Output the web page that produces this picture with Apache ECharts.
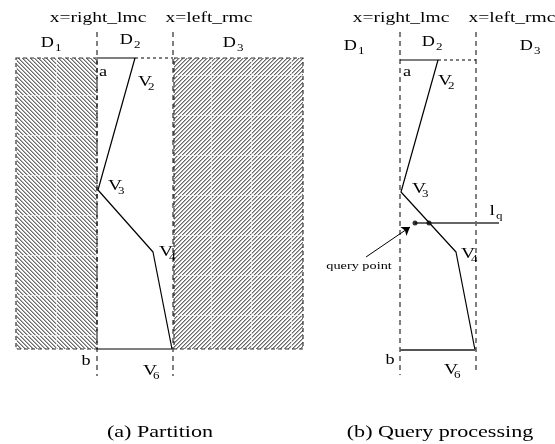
<!DOCTYPE html>
<html>
<head>
<meta charset="utf-8">
<script src="https://cdn.jsdelivr.net/npm/echarts@6/dist/echarts.min.js"></script>
<style>
  html, body { margin: 0; padding: 0; background: #fff; }
  #main { width: 555px; height: 444px; }
</style>
</head>
<body>
<div id="main"></div>
<script>
// diagram coordinates (x to the right, y downward)
const hatchRegions = [[16, 58, 97, 349], [174, 58, 303, 349]];
const hatchDirs = ['back', 'fwd'];

const guideLines = [
  [97, 32, 376], [173, 32, 376],
  [400, 32, 375], [476, 32, 373]
];
const topDashes = [[[135, 58], [173, 58]], [[438, 60], [476, 60]]];

const chainLeft = [[97, 58], [135, 58], [98, 190], [153, 252], [172, 349], [97, 349]];
const chainRight = [[400, 60], [438, 60], [401, 192], [456, 252], [475, 350]];
const bottomRight = [[475, 350], [400, 350]];

const queryLine = [[415, 223], [499, 223]];
const queryDots = [[415, 223], [429, 223]];
const arrow = [[366, 257], [410, 227]];

const headerLabels = [
  ['x=right_lmc', 98, 18], ['x=left_rmc', 209, 18],
  ['x=right_lmc', 401, 18], ['x=left_rmc', 512, 18]
];
const pointLabels = [['a', 103, 72], ['b', 86, 361], ['a', 407, 72], ['b', 390, 360]];
const noteLabels = [['query point', 359, 266]];
const captions = [['(a) Partition', 160, 433], ['(b) Query processing', 440, 433]];

// [letter, subscript, x of the letter's right edge, y]
const subLabels = [
  ['D', '1', 54, 43], ['D', '2', 133, 40], ['D', '3', 236, 43],
  ['V', '2', 152, 82], ['V', '3', 122, 186], ['V', '4', 173, 252], ['V', '6', 157, 371],
  ['D', '1', 357, 46], ['D', '2', 435, 42], ['D', '3', 533, 46],
  ['V', '2', 452, 81], ['V', '3', 426, 189], ['V', '4', 475, 254], ['V', '6', 458, 370],
  ['l', 'q', 495, 211]
];

const FAMILY = 'Liberation Serif';
const SX = 1.3; // the figure's text is stretched sideways

function hatchTile(dir) {
  const c = document.createElement('canvas');
  c.width = 40; c.height = 40;
  const ctx = c.getContext('2d');
  const img = ctx.createImageData(40, 40);
  const gy = dir === 'back' ? 15 : 35;
  const gx = dir === 'back' ? 16 : 11;
  for (let y = 0; y < 40; y++) {
    for (let x = 0; x < 40; x++) {
      const k = dir === 'back' ? (((x - y) % 4) + 4) % 4 : (x + y) % 4;
      let v = 255;
      if (k === 0) v = 105;
      else if (k === 1) v = 175;
      if (y === gy || x === gx) v = Math.max(v, 215);
      const i = (y * 40 + x) * 4;
      img.data[i] = img.data[i + 1] = img.data[i + 2] = v;
      img.data[i + 3] = 255;
    }
  }
  ctx.putImageData(img, 0, 0);
  return { image: c, repeat: 'repeat' };
}
const patterns = { back: hatchTile('back'), fwd: hatchTile('fwd') };

function lineSeries(data, color, width, dash) {
  return {
    type: 'line', data: data, showSymbol: false, silent: true,
    lineStyle: { color: color, width: width, type: dash || 'solid' },
    z: 3
  };
}

function textEl(x, y, text, size, align) {
  return {
    type: 'text', x: x, y: y, scaleX: SX,
    style: {
      text: text, fill: '#000', fontFamily: FAMILY, fontSize: size,
      align: align, verticalAlign: 'middle'
    }
  };
}

function textSeries(list, size) {
  return {
    type: 'custom', silent: true, clip: false, z: 5,
    data: list.map(l => [l[1], l[2]]),
    renderItem: (params, api) => {
      const p = api.coord([api.value(0), api.value(1)]);
      return textEl(p[0], p[1], list[params.dataIndex][0], size, 'center');
    }
  };
}

const chart = echarts.init(document.getElementById('main'));

const series = [];

series.push({
  type: 'custom', silent: true, z: 1,
  data: hatchRegions,
  renderItem: (params, api) => {
    const p0 = api.coord([api.value(0), api.value(1)]);
    const p1 = api.coord([api.value(2), api.value(3)]);
    return {
      type: 'rect',
      shape: { x: p0[0], y: p0[1], width: p1[0] - p0[0], height: p1[1] - p0[1] },
      style: { fill: patterns[hatchDirs[params.dataIndex]], stroke: '#333', lineWidth: 1.2, lineDash: [4, 3] }
    };
  }
});

guideLines.forEach(g => series.push(lineSeries([[g[0], g[1]], [g[0], g[2]]], '#000', 1, [5, 4])));
topDashes.forEach(d => series.push(lineSeries(d, '#000', 1, [3, 3])));

series.push(lineSeries(chainLeft, '#000', 1.2));
series.push(lineSeries(chainRight, '#000', 1.2));
series.push(lineSeries(bottomRight, '#555', 2));
series.push(lineSeries(queryLine, '#666', 2));

series.push({
  type: 'lines', coordinateSystem: 'cartesian2d', silent: true, z: 4,
  symbol: ['none', 'arrow'], symbolSize: 8,
  lineStyle: { color: '#000', width: 1, opacity: 1 },
  data: [{ coords: arrow }]
});

series.push({
  type: 'scatter', data: queryDots, symbolSize: 5, silent: true, z: 6,
  itemStyle: { color: '#000' }
});

series.push(textSeries(headerLabels, 15));
series.push(textSeries(pointLabels, 14));
series.push(textSeries(noteLabels, 11));
series.push(textSeries(captions, 17));

series.push({
  type: 'custom', silent: true, clip: false, z: 5,
  data: subLabels.map(l => [l[2], l[3]]),
  renderItem: (params, api) => {
    const l = subLabels[params.dataIndex];
    const p = api.coord([api.value(0), api.value(1)]);
    const isV = l[0] === 'V';
    const size = l[0] === 'D' ? 14 : 15;
    return {
      type: 'group',
      children: [
        textEl(p[0], p[1], l[0], size, 'right'),
        textEl(p[0] + (isV ? -4 : 1), p[1] + 5, l[1], 10, 'left')
      ]
    };
  }
});

chart.setOption({
  animation: false,
  backgroundColor: '#fff',
  grid: { left: 0, right: 0, top: 0, bottom: 0 },
  xAxis: { type: 'value', min: 0, max: 555, show: false },
  yAxis: { type: 'value', min: 0, max: 444, inverse: true, show: false },
  series: series
});
</script>
</body>
</html>
